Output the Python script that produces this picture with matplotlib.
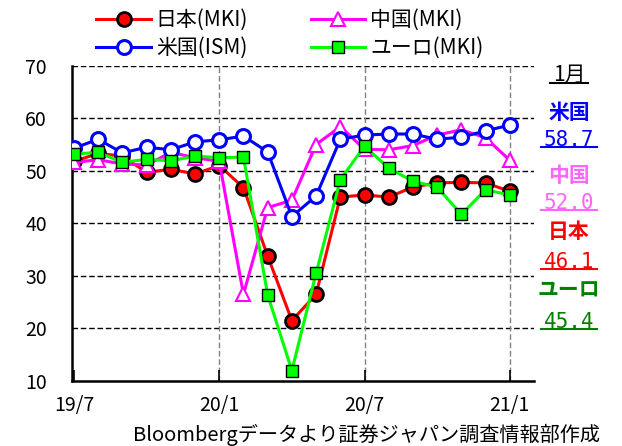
import matplotlib
matplotlib.use("Agg")
import matplotlib.pyplot as plt
from matplotlib.lines import Line2D

plt.rcParams['font.family'] = ['Noto Sans CJK JP', 'DejaVu Sans']

# monthly PMI, 2019/7 .. 2021/1
months = list(range(19))
tick_pos = [0, 6, 12, 18]
tick_labels = ['19/7', '20/1', '20/7', '21/1']

japan = [51.8, 53.3, 52.8, 49.7, 50.3, 49.4, 51.0, 46.8, 33.8, 21.5, 26.5,
         45.0, 45.4, 45.0, 46.9, 47.7, 47.8, 47.7, 46.1]
china = [51.6, 52.1, 51.3, 51.1, 53.5, 52.5, 51.8, 26.5, 43.0, 44.4, 55.0,
         58.4, 54.1, 54.0, 54.8, 56.8, 57.8, 56.3, 52.0]
usa = [54.3, 56.0, 53.4, 54.5, 54.0, 55.5, 55.9, 56.6, 53.6, 41.3, 45.2,
       56.0, 56.8, 57.0, 57.0, 56.0, 56.4, 57.6, 58.7]
euro = [53.2, 53.5, 51.6, 52.2, 51.9, 52.8, 52.5, 52.6, 26.4, 12.0, 30.5,
        48.3, 54.7, 50.5, 48.0, 46.9, 41.7, 46.4, 45.4]

fig = plt.figure(figsize=(6.22, 4.46), dpi=100)
ax = fig.add_axes([0.1158, 0.1457, 0.7427, 0.707])

l_jp, = ax.plot(months, japan, color='#ff0000', lw=2.2, marker='o', ms=10,
                mfc='#ff0000', mec='black', mew=2, label='日本(MKI)', zorder=3)
l_cn, = ax.plot(months, china, color='#ff00ff', lw=2.2, marker='^', ms=10,
                mfc='white', mec='#ff00ff', mew=1.5, label='中国(MKI)', zorder=4)
l_us, = ax.plot(months, usa, color='#0000ff', lw=2.2, marker='o', ms=10,
                mfc='white', mec='#0000ff', mew=2.2, label='米国(ISM)', zorder=5)
l_eu, = ax.plot(months, euro, color='#00ff00', lw=2.2, marker='s', ms=8,
                mfc='#00ff00', mec='black', mew=1, label='ユーロ(MKI)', zorder=6)

ax.set_xlim(-0.08, 19.0)
ax.set_ylim(10, 70)
ax.set_yticks(range(10, 71, 10))
ax.set_xticks(tick_pos)
ax.set_xticklabels(tick_labels)
ax.tick_params(axis='x', direction='in', length=8, width=1.2, labelsize=14, pad=10)
ax.tick_params(axis='y', length=0, labelsize=14, pad=18)

for v in range(20, 71, 10):
    ax.axhline(v, color='black', lw=1, ls=(0, (4, 2)), zorder=1)
for p in tick_pos[1:]:
    ax.axvline(p, color='gray', lw=1, ls=(0, (4, 2)), zorder=1)

for s in ['top', 'right']:
    ax.spines[s].set_visible(False)
for s in ['left', 'bottom']:
    ax.spines[s].set_linewidth(1.8)

fig.legend(handles=[l_jp, l_us, l_cn, l_eu], ncol=2, loc='upper left',
           bbox_to_anchor=(0.135, 1.008), frameon=False, fontsize=15,
           handlelength=2.6, handletextpad=0.25, columnspacing=3.0,
           labelspacing=0.3, borderaxespad=0.2)

# latest values on the right
notes = [
    ('1月', 'black', False, 0.832),
    ('米国', '#0000ff', True, 0.748),
    ('58.7', '#0000ff', False, 0.686),
    ('中国', '#ff66ff', True, 0.607),
    ('52.0', '#ff66ff', False, 0.545),
    ('日本', '#ff0000', True, 0.480),
    ('46.1', '#ff0000', False, 0.413),
    ('ユーロ', '#008000', True, 0.350),
    ('45.4', '#008000', False, 0.278),
]
texts = []
for txt, col, bold, y in notes:
    if bold:
        fig.text(0.915, y, txt, color=col, fontsize=15, ha='center',
                 va='center', fontweight='bold')
    else:
        if txt[0].isdigit() and '.' in txt:
            fam = ['DejaVu Sans Mono', 'Noto Sans CJK JP']
        else:
            fam = ['Noto Sans CJK JP', 'DejaVu Sans']
        t = fig.text(0.915, y, txt, color=col, fontsize=15, ha='center',
                     va='center', family=fam)
        texts.append((t, col))

fig.text(0.965, 0.024, 'Bloombergデータより証券ジャパン調査情報部作成',
         fontsize=14.5, ha='right', va='center')

fig.canvas.draw()
r = fig.canvas.get_renderer()
for t, col in texts:
    bb = t.get_window_extent(r).transformed(fig.transFigure.inverted())
    fig.add_artist(Line2D([bb.x0 - 0.005, bb.x1 + 0.005], [bb.y0 + 0.006] * 2,
                          color=col, lw=1.5, transform=fig.transFigure))

fig.savefig('out.png', dpi=100)
